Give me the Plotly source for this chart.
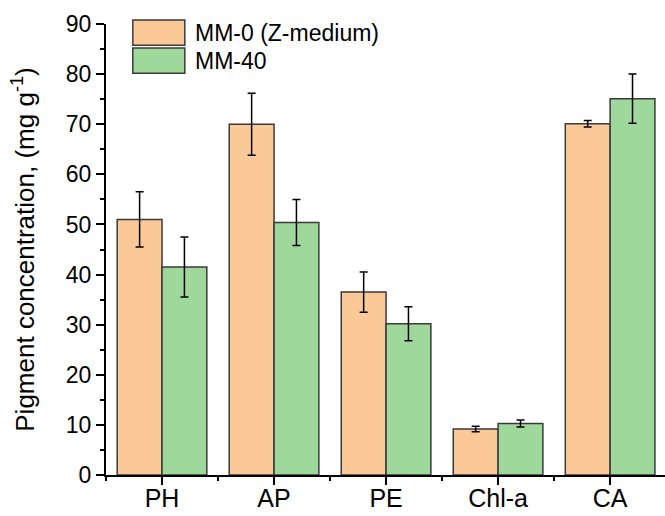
import plotly.graph_objects as go

categories = ["PH", "AP", "PE", "Chl-a", "CA"]
mm0_values = [51.0, 70.0, 36.5, 9.2, 70.1]
mm0_errors = [5.5, 6.2, 4.0, 0.55, 0.65]
mm40_values = [41.5, 50.4, 30.2, 10.3, 75.1]
mm40_errors = [6.0, 4.6, 3.4, 0.7, 4.9]
series_names = ["MM-0 (Z-medium)", "MM-40"]
y_ticks = [0, 10, 20, 30, 40, 50, 60, 70, 80, 90]

orange = "#FBC998"
green = "#9ED89B"
font_family = "Liberation Sans, Arial, sans-serif"

xpos = list(range(len(categories)))

fig = go.Figure()
for name, vals, errs, col in [
    (series_names[0], mm0_values, mm0_errors, orange),
    (series_names[1], mm40_values, mm40_errors, green),
]:
    fig.add_trace(go.Bar(
        x=xpos, y=vals, name=name,
        marker=dict(color=col, line=dict(color="#3a3a3a", width=1.5)),
        error_y=dict(type="data", array=errs, visible=True,
                     color="black", thickness=1.5, width=4),
        showlegend=False,
    ))

# legend drawn as swatches + text
leg_items = [(series_names[0], orange, 1.009, 0.953), (series_names[1], green, 0.947, 0.891)]
for name, col, y1, y0 in leg_items:
    fig.add_shape(type="rect", xref="paper", yref="paper",
                  x0=0.048, x1=0.141, y0=y0, y1=y1,
                  fillcolor=col, line=dict(color="#3a3a3a", width=1.5))
    fig.add_annotation(xref="paper", yref="paper", x=0.156, y=(y0 + y1) / 2,
                       text=name, showarrow=False, xanchor="left", yanchor="middle",
                       font=dict(family=font_family, size=23, color="black"))

fig.update_layout(
    template="none",
    width=665, height=516,
    margin=dict(l=106, r=0, t=24, b=41, autoexpand=False),
    paper_bgcolor="white", plot_bgcolor="white",
    barmode="group", bargap=0.2, bargroupgap=0,
    font=dict(family=font_family, color="black"),
    showlegend=False,
)
fig.update_xaxes(
    automargin=False,
    range=[-0.5, 4.49], tickmode="array", tickvals=xpos, ticktext=categories,
    tickfont=dict(size=25), ticks="outside", ticklen=8, tickwidth=2, tickcolor="black",
    ticklabelstandoff=-8,
    showline=True, linecolor="black", linewidth=2, showgrid=False, zeroline=False,
    minor=dict(tickmode="linear", tick0=0.5, dtick=1, ticks="outside", ticklen=4,
               tickwidth=2, tickcolor="black", showgrid=False),
)
fig.update_yaxes(
    automargin=False,
    range=[0, 90], tickmode="array", tickvals=y_ticks,
    tickfont=dict(size=23), ticks="outside", ticklen=8, tickwidth=2, tickcolor="black",
    showline=True, linecolor="black", linewidth=2, showgrid=False, zeroline=False,
    minor=dict(tickmode="linear", tick0=5, dtick=10, ticks="outside", ticklen=4,
               tickwidth=2, tickcolor="black", showgrid=False),
    title=dict(text="Pigment concentration, (mg g<sup>-1</sup>)", font=dict(size=26), standoff=24),
)

fig.write_html("out.html", config={"displayModeBar": False},
               post_script="document.body.style.margin='0';")
